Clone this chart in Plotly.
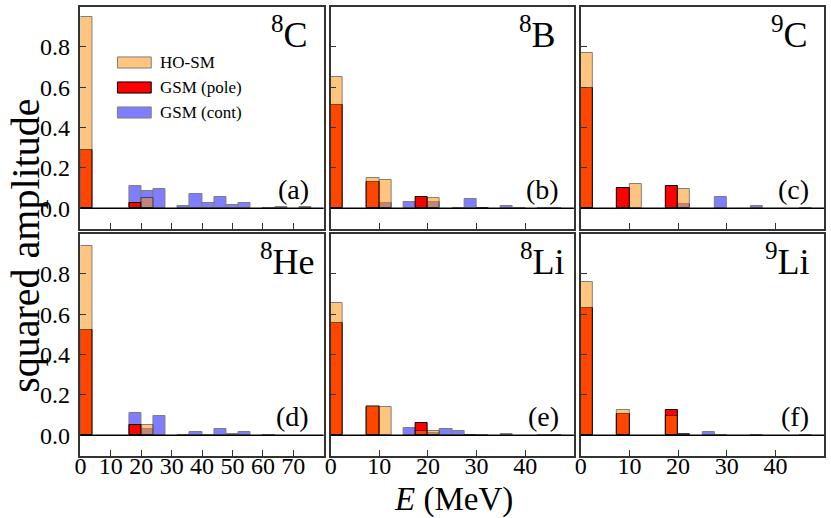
import numpy as np
import plotly.graph_objects as go

# ---------------- data (squared amplitudes per energy bin) ----------------
N_BINS = 20
bin_width = [4.0, 2.5, 2.5, 4.0, 2.5, 2.5]   # MeV, panels a..f
x_max = [80, 50, 50, 80, 50, 50]
x_tick_vals = [[0, 10, 20, 30, 40, 50, 60, 70], [0, 10, 20, 30, 40], [0, 10, 20, 30, 40],
               [0, 10, 20, 30, 40, 50, 60, 70], [0, 10, 20, 30, 40], [0, 10, 20, 30, 40]]
y_tick_vals = [0.0, 0.2, 0.4, 0.6, 0.8]
y_tick_text = ["0.0", "0.2", "0.4", "0.6", "0.8"]

nuclei = ["<sup>8</sup>C", "<sup>8</sup>B", "<sup>9</sup>C",
          "<sup>8</sup>He", "<sup>8</sup>Li", "<sup>9</sup>Li"]
panel_letters = ["(a)", "(b)", "(c)", "(d)", "(e)", "(f)"]
series_names = ["HO-SM", "GSM (pole)", "GSM (cont)"]

#          0     1  2  3      4      5      6      7  8      9      10     11     12     13     14     15     16     17     18     19
ho_a   = [0.945, 0, 0, 0,     0,     0.050, 0,     0, 0,     0,     0,     0,     0,     0,     0,     0,     0,     0,     0,     0]
pole_a = [0.290, 0, 0, 0,     0.026, 0,     0,     0, 0,     0,     0,     0,     0,     0,     0,     0,     0,     0,     0,     0]
cont_a = [0,     0, 0, 0,     0.112, 0.084, 0.096, 0, 0.013, 0.068, 0.025, 0.056, 0.017, 0.026, 0,     0.002, 0.008, 0,     0.008, 0]

ho_b   = [0.650, 0, 0, 0.150, 0.142, 0,     0,     0,     0.050, 0,     0,     0,     0.002, 0,     0,     0,     0,     0,     0,     0]
pole_b = [0.513, 0, 0, 0.131, 0,     0,     0,     0.058, 0,     0,     0,     0,     0,     0,     0,     0,     0,     0,     0,     0]
cont_b = [0,     0, 0, 0,     0.026, 0,     0.031, 0,     0.030, 0,     0.003, 0.048, 0.002, 0,     0.012, 0.002, 0,     0.002, 0.003, 0]

ho_c   = [0.770, 0, 0, 0,     0.122, 0,     0,     0,     0.0975, 0,    0,     0,     0,     0,     0,     0,     0,     0,     0,     0]
pole_c = [0.595, 0, 0, 0.102, 0,     0,     0,     0.109, 0,     0,     0,     0,     0,     0,     0,     0,     0,     0,     0,     0]
cont_c = [0,     0, 0, 0,     0,     0,     0,     0,     0.021, 0,     0,     0.056, 0,     0,     0.012, 0,     0,     0,     0.003, 0]

ho_d   = [0.940, 0, 0, 0,     0,     0.050, 0,     0, 0,     0,     0,     0,     0,     0,     0,     0,     0,     0,     0,     0]
pole_d = [0.520, 0, 0, 0,     0.053, 0,     0,     0, 0,     0,     0,     0,     0,     0,     0,     0,     0,     0,     0,     0]
cont_d = [0,     0, 0, 0,     0.112, 0.033, 0.093, 0, 0.003, 0.018, 0.003, 0.030, 0.008, 0.015, 0,     0.002, 0,     0,     0,     0]

ho_e   = [0.654, 0, 0, 0.143, 0.139, 0,     0,     0.023, 0.023, 0,     0,     0.003, 0,     0,     0,     0,     0,     0,     0,     0]
pole_e = [0.557, 0, 0, 0.140, 0,     0,     0,     0.063, 0,     0,     0,     0,     0,     0,     0,     0,     0,     0,     0,     0]
cont_e = [0,     0, 0, 0,     0,     0,     0.038, 0,     0.012, 0.030, 0.021, 0.002, 0.002, 0,     0.004, 0,     0,     0.002, 0.002, 0]

ho_f   = [0.760, 0, 0, 0.127, 0,     0,     0,     0.096, 0.008, 0,     0,     0,     0,     0,     0,     0,     0,     0,     0,     0]
pole_f = [0.632, 0, 0, 0.104, 0,     0,     0,     0.127, 0,     0,     0,     0,     0,     0,     0,     0,     0,     0,     0,     0]
cont_f = [0,     0, 0, 0,     0,     0,     0,     0,     0.004, 0,     0.018, 0.002, 0,     0,     0.003, 0,     0,     0,     0.002, 0]

ho_all = [ho_a, ho_b, ho_c, ho_d, ho_e, ho_f]
pole_all = [pole_a, pole_b, pole_c, pole_d, pole_e, pole_f]
cont_all = [cont_a, cont_b, cont_c, cont_d, cont_e, cont_f]

# ---------------- styling / layout ----------------
W, H = 831, 518
FONT = "Liberation Serif, Times New Roman, Times, serif"
FRAME = "#333333"
col_px = [(75, 320), (327, 572), (579, 824)]
row_px = [(7, 229), (234, 456)]
Y_RANGE = [-0.103, 0.997]

# label placement (axis-domain fractions)
nuc_x = [0.942, 0.935, 0.942, 0.972, 0.972, 0.952]
letter_x = 0.948

COL_HO = "#FF8C00"
COL_POLE = "#FF0000"
COL_CONT = "#0000FF"


def nz(v):
    return [val if val > 0 else None for val in v]


fig = go.Figure()
layout = {}
annotations = []
shapes = []

for i in range(6):
    r, c = divmod(i, 3)
    sfx = "" if i == 0 else str(i + 1)
    xa, ya = "x" + sfx, "y" + sfx
    w = bin_width[i]
    centers = (np.arange(N_BINS) + 0.5) * w

    # drawing order: continuum, pole, HO-SM (on top, translucent)
    fig.add_trace(go.Bar(x=centers, y=nz(cont_all[i]), width=w, xaxis=xa, yaxis=ya,
                         name=series_names[2], showlegend=False, opacity=0.5,
                         marker=dict(color=COL_CONT, line=dict(color="black", width=1))))
    fig.add_trace(go.Bar(x=centers, y=nz(pole_all[i]), width=w, xaxis=xa, yaxis=ya,
                         name=series_names[1], showlegend=False,
                         marker=dict(color=COL_POLE, line=dict(color="black", width=1))))
    fig.add_trace(go.Bar(x=centers, y=nz(ho_all[i]), width=w, xaxis=xa, yaxis=ya,
                         name=series_names[0], showlegend=False, opacity=0.5,
                         marker=dict(color=COL_HO, line=dict(color="black", width=1))))

    x0, x1 = col_px[c]
    y0, y1 = row_px[r]
    layout["xaxis" + sfx] = dict(
        domain=[x0 / W, x1 / W], anchor=ya, range=[0, x_max[i]],
        tickvals=x_tick_vals[i], ticks="inside", ticklen=6, tickwidth=1, tickcolor=FRAME,
        showticklabels=(r == 1), showline=True, mirror=True, linecolor=FRAME, linewidth=1.5,
        showgrid=False, zeroline=False, fixedrange=True, ticklabelstandoff=-13,
        tickfont=dict(family=FONT, size=24, color="black"))
    layout["yaxis" + sfx] = dict(
        domain=[1 - y1 / H, 1 - y0 / H], anchor=xa, range=Y_RANGE,
        tickvals=y_tick_vals, ticktext=y_tick_text, ticks="inside", ticklen=6, tickwidth=1,
        tickcolor=FRAME, showticklabels=(c == 0), showline=True, mirror=True,
        linecolor=FRAME, linewidth=1.5, showgrid=False, zeroline=False, fixedrange=True,
        ticklabelstandoff=4,
        tickfont=dict(family=FONT, size=24, color="black"))

    # horizontal zero line
    shapes.append(dict(type="line", xref=xa + " domain", yref=ya, x0=0, x1=1, y0=0, y1=0,
                       line=dict(color="black", width=1.5), layer="above"))

    annotations.append(dict(text=nuclei[i], xref=xa + " domain", yref=ya + " domain",
                            x=nuc_x[i], y=0.775, xanchor="right", yanchor="bottom",
                            showarrow=False, font=dict(family=FONT, size=36, color="black")))
    annotations.append(dict(text=panel_letters[i], xref=xa + " domain", yref=ya + " domain",
                            x=letter_x, y=0.18, xanchor="right", yanchor="middle",
                            showarrow=False, font=dict(family=FONT, size=28, color="black")))

# manual legend in panel (a)
leg_items = [(series_names[0], COL_HO, 0.5), (series_names[1], COL_POLE, 1.0),
             (series_names[2], COL_CONT, 0.5)]
for k, (name, col, op) in enumerate(leg_items):
    yc = 0.75 - k * 0.1126
    shapes.append(dict(type="rect", xref="x domain", yref="y domain",
                       x0=0.152, x1=0.291, y0=yc - 0.025, y1=yc + 0.025,
                       fillcolor=col, opacity=op, line=dict(color="black", width=1),
                       layer="above"))
    annotations.append(dict(text=name, xref="x domain", yref="y domain", x=0.318, y=yc,
                            xanchor="left", yanchor="middle", showarrow=False,
                            font=dict(family=FONT, size=17, color="black")))

# axis titles
annotations.append(dict(text="squared amplitude", xref="paper", yref="paper",
                        x=20 / W, y=1 - 246 / H, textangle=-90, showarrow=False,
                        xanchor="center", yanchor="middle",
                        font=dict(family=FONT, size=40, color="black")))
annotations.append(dict(text="<i>E</i> (MeV)", xref="paper", yref="paper",
                        x=451 / W, y=1 - 499 / H, showarrow=False,
                        xanchor="center", yanchor="middle",
                        font=dict(family=FONT, size=33, color="black")))

fig.update_layout(
    width=W, height=H, margin=dict(l=0, r=0, t=0, b=0),
    paper_bgcolor="white", plot_bgcolor="white",
    font=dict(family=FONT, color="black"),
    barmode="overlay", bargap=0, showlegend=False,
    annotations=annotations, shapes=shapes,
    **layout)

fig.write_html("out.html", config={"displayModeBar": False},
               post_script="document.body.style.margin='0';document.body.style.overflow='hidden';")
